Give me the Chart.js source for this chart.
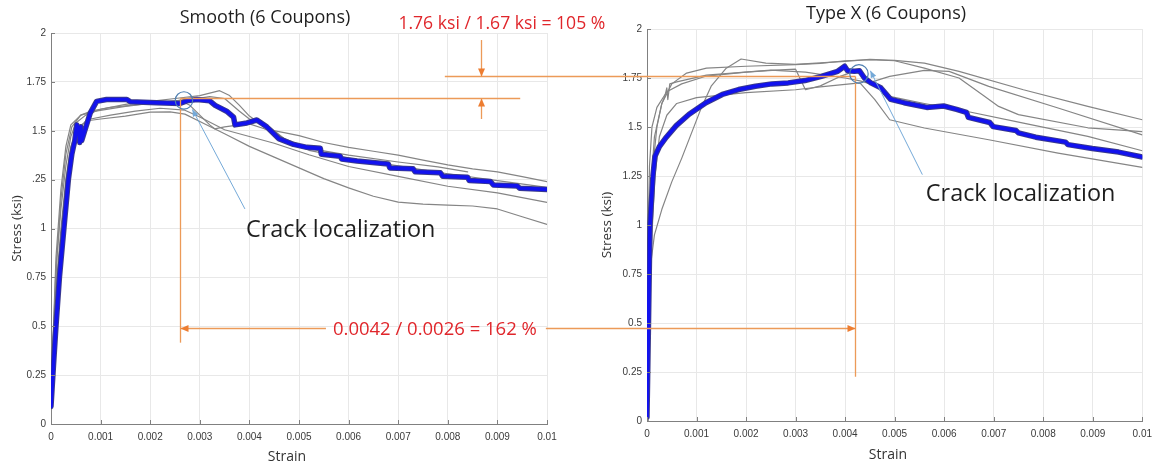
<!DOCTYPE html>
<html>
<head>
<meta charset="utf-8">
<script src="https://cdn.jsdelivr.net/npm/chart.js@4.4.1/dist/chart.umd.min.js"></script>
<style>
  html, body { margin: 0; padding: 0; background: #fff; }
  #wrap { position: relative; width: 1159px; height: 465px; overflow: hidden; background: #fff; }
  #wrap canvas { position: absolute; top: 0; }
</style>
</head>
<body>
<div id="wrap">
  <canvas id="smooth" width="590" height="465" style="left:0"></canvas>
  <canvas id="typex" width="569" height="465" style="left:590px"></canvas>
  <canvas id="notes" width="1159" height="465" style="left:0"></canvas>
</div>
<script>
// ---- axes ----
const strainTicks = [0, 0.001, 0.002, 0.003, 0.004, 0.005, 0.006, 0.007, 0.008, 0.009, 0.01];
const strainTickLabels = ['0', '0.001', '0.002', '0.003', '0.004', '0.005', '0.006', '0.007', '0.008', '0.009', '0.01'];
const stressTicks = [0, 0.25, 0.5, 0.75, 1, 1.25, 1.5, 1.75, 2];
const smoothStressLabels = ['0', '0.25', '0.5', '0.75', '1', '.25', '1.5', '1.75', '2'];
const typeXStressLabels = ['0', '0.25', '0.5', '0.75', '1', '1.25', '1.5', '1.75', '2'];
const chartTitles = ['Smooth (6 Coupons)', 'Type X (6 Coupons)'];
const strainTitle = 'Strain';
const stressTitle = 'Stress (ksi)';
const crackText = 'Crack localization';

// ---- peak values compared between the two panels: [Smooth, Type X] ----
const peakStrain = [0.0026, 0.0042];
const peakStress = [1.67, 1.76];

// ---- Smooth coupons: [strain, stress (ksi)] ----
const smoothHighlight = [[0,0.09],[0.00005,0.3],[0.0001,0.5],[0.00017,0.75],[0.00026,1.0],[0.00035,1.25],[0.00042,1.38],[0.00048,1.45],[0.00052,1.53],[0.00056,1.5],[0.00058,1.44],[0.0006,1.52],[0.00062,1.45],[0.00068,1.5],[0.00079,1.59],[0.00092,1.65],[0.00112,1.66],[0.00153,1.66],[0.0016,1.648],[0.00213,1.643],[0.0026,1.64],[0.00274,1.653],[0.00294,1.66],[0.0032,1.653],[0.00331,1.63],[0.00354,1.6],[0.00368,1.57],[0.00371,1.53],[0.00395,1.54],[0.00415,1.555],[0.00435,1.52],[0.00459,1.46],[0.00489,1.43],[0.00516,1.415],[0.00543,1.41],[0.00545,1.38],[0.00583,1.37],[0.00586,1.355],[0.00617,1.345],[0.0068,1.33],[0.00683,1.31],[0.0073,1.305],[0.00734,1.29],[0.00785,1.285],[0.0079,1.267],[0.0084,1.262],[0.00843,1.246],[0.00886,1.24],[0.00892,1.222],[0.0094,1.218],[0.00945,1.206],[0.01,1.2]];
const smoothA = [[0,0.05],[0.00004,0.4],[0.0001,0.8],[0.0002,1.1],[0.0003,1.32],[0.0004,1.47],[0.0005,1.54],[0.0007,1.58],[0.001,1.61],[0.0015,1.635],[0.002,1.65],[0.0025,1.665],[0.003,1.68],[0.0034,1.705],[0.0036,1.68],[0.0038,1.63],[0.004,1.575],[0.0043,1.52],[0.0047,1.46],[0.0052,1.41],[0.006,1.375],[0.007,1.34],[0.0078,1.315],[0.0084,1.29]];
const smoothB = [[0,0.08],[0.00005,0.45],[0.00012,0.85],[0.0002,1.15],[0.0003,1.38],[0.00042,1.52],[0.0006,1.58],[0.0009,1.6],[0.0015,1.625],[0.002,1.64],[0.0026,1.655],[0.0028,1.63],[0.003,1.58],[0.0032,1.53],[0.0033,1.51],[0.0035,1.52],[0.0038,1.53],[0.004,1.535],[0.0043,1.51],[0.0047,1.49],[0.005,1.475],[0.0055,1.44],[0.006,1.415],[0.0065,1.395],[0.007,1.375],[0.0075,1.35],[0.008,1.325],[0.0085,1.305],[0.009,1.29],[0.0095,1.265],[0.01,1.24]];
const smoothC = [[0,0.05],[0.00005,0.35],[0.00012,0.75],[0.0002,1.0],[0.0003,1.25],[0.0004,1.42],[0.00055,1.52],[0.0008,1.56],[0.0012,1.58],[0.0017,1.6],[0.0022,1.615],[0.0027,1.605],[0.003,1.57],[0.0035,1.505],[0.0045,1.436],[0.0052,1.377],[0.006,1.317],[0.007,1.267],[0.008,1.216],[0.009,1.182],[0.01,1.134]];
const smoothD = [[0,0.02],[0.00005,0.3],[0.00012,0.65],[0.0002,0.95],[0.0003,1.2],[0.0004,1.38],[0.0005,1.49],[0.0007,1.55],[0.001,1.56],[0.0015,1.575],[0.002,1.595],[0.0024,1.597],[0.0027,1.585],[0.003,1.547],[0.0035,1.485],[0.004,1.42],[0.0045,1.365],[0.005,1.31],[0.0055,1.255],[0.006,1.208],[0.0065,1.165],[0.007,1.135],[0.0075,1.125],[0.008,1.12],[0.0085,1.115],[0.009,1.1],[0.0095,1.06],[0.01,1.021]];
const smoothE = [[0,0.1],[0.00005,0.5],[0.0001,0.85],[0.0002,1.2],[0.0003,1.42],[0.0004,1.53],[0.0006,1.58],[0.0008,1.6],[0.0012,1.62],[0.002,1.64],[0.0028,1.66],[0.0032,1.675],[0.0035,1.665],[0.0038,1.6],[0.004,1.56],[0.0044,1.52],[0.0048,1.44],[0.0052,1.4],[0.006,1.36],[0.007,1.32],[0.008,1.28],[0.009,1.245],[0.01,1.21]];

// ---- Type X coupons: [strain, stress (ksi)] ----
const typeXHighlight = [[0,0.02],[0.00003,0.5],[0.00006,1.0],[0.00012,1.25],[0.00016,1.35],[0.00025,1.4],[0.00039,1.448],[0.00059,1.507],[0.00085,1.565],[0.00119,1.624],[0.00152,1.666],[0.00185,1.691],[0.00219,1.708],[0.00252,1.72],[0.00285,1.725],[0.00319,1.737],[0.00352,1.758],[0.00385,1.784],[0.00399,1.81],[0.00405,1.787],[0.00419,1.784],[0.00429,1.787],[0.00439,1.75],[0.00452,1.725],[0.00472,1.7],[0.00492,1.641],[0.00519,1.624],[0.00552,1.607],[0.00565,1.6],[0.00599,1.607],[0.00625,1.59],[0.00645,1.574],[0.00649,1.549],[0.00692,1.523],[0.00699,1.502],[0.00745,1.482],[0.0075,1.47],[0.00785,1.448],[0.00845,1.423],[0.0085,1.41],[0.00899,1.39],[0.00952,1.372],[0.01,1.347]];
const typeXA = [[0,0],[0.00002,0.9],[0.00005,1.3],[0.0001,1.5],[0.0002,1.6],[0.0004,1.68],[0.0007,1.72],[0.0012,1.76],[0.002,1.78],[0.0026,1.79],[0.003,1.795],[0.0032,1.69],[0.0035,1.71],[0.0039,1.758],[0.0042,1.785],[0.0045,1.74],[0.0049,1.656],[0.0056,1.62],[0.0063,1.588],[0.0076,1.52],[0.0089,1.452],[0.01,1.379]];
const typeXB = [[0,0],[0.00002,0.45],[0.00005,0.75],[0.00015,0.95],[0.0003,1.08],[0.0005,1.22],[0.0007,1.34],[0.0009,1.47],[0.0011,1.6],[0.0013,1.71],[0.0016,1.8],[0.0019,1.847],[0.0024,1.826],[0.003,1.82],[0.004,1.835],[0.0045,1.845],[0.005,1.84],[0.0056,1.826],[0.0063,1.784],[0.0076,1.69],[0.0089,1.605],[0.01,1.537]];
const typeXC = [[0,0],[0.00003,0.7],[0.00008,1.2],[0.00015,1.45],[0.0003,1.62],[0.0005,1.72],[0.0008,1.775],[0.0012,1.8],[0.002,1.81],[0.003,1.818],[0.0035,1.825],[0.004,1.838],[0.0045,1.843],[0.005,1.838],[0.0056,1.8],[0.0063,1.75],[0.0068,1.66],[0.0071,1.605],[0.0075,1.563],[0.0089,1.496],[0.01,1.476]];
const typeXD = [[0,0],[0.00003,0.8],[0.0001,1.25],[0.0002,1.5],[0.0003,1.62],[0.00036,1.656],[0.0004,1.7],[0.00042,1.64],[0.00046,1.72],[0.0006,1.73],[0.0012,1.765],[0.0025,1.79],[0.0032,1.78],[0.004,1.75],[0.0043,1.735],[0.00446,1.724],[0.0049,1.758],[0.0056,1.789],[0.0061,1.784],[0.0069,1.707],[0.0083,1.597],[0.01,1.46]];
const typeXE = [[0,0],[0.00004,0.5],[0.0001,0.95],[0.00016,1.25],[0.00025,1.45],[0.0004,1.56],[0.0006,1.62],[0.001,1.65],[0.002,1.675],[0.003,1.69],[0.0035,1.705],[0.0043,1.725],[0.0046,1.64],[0.0049,1.537],[0.0056,1.495],[0.0069,1.435],[0.0083,1.367],[0.01,1.294]];

const GRAY = '#858585';
const BLUE = '#1212ee';
const BLUE_EDGE = '#3b3b8c';
const ORANGE_LINE = '#ec9a58';
const ORANGE_HEAD = '#ed7d31';
const RED = '#e0262b';
const LEADER = '#74a9d8';
const RING = '#4f7fb0';
const TEXT = '#1e1e1e';

const toXY = pts => pts.map(p => ({ x: p[0], y: p[1] }));

function coupons(grays, highlight) {
  const sets = grays.map(g => ({ data: toXY(g), borderColor: GRAY, borderWidth: 1.2, order: 3 }));
  sets.push({ data: toXY(highlight), borderColor: BLUE_EDGE, borderWidth: 5.5, order: 2 });
  sets.push({ data: toXY(highlight), borderColor: BLUE, borderWidth: 3.6, order: 1 });
  return sets;
}

// MATLAB-style tick marks pointing into the plot
const innerTicks = {
  id: 'innerTicks',
  afterDraw(chart) {
    const { ctx, chartArea: a, scales: { x, y } } = chart;
    ctx.save();
    ctx.strokeStyle = '#808080';
    ctx.lineWidth = 1;
    ctx.beginPath();
    x.ticks.forEach(t => { const p = Math.round(x.getPixelForValue(t.value)) + 0.5; ctx.moveTo(p, a.bottom); ctx.lineTo(p, a.bottom - 4); });
    y.ticks.forEach(t => { const p = Math.round(y.getPixelForValue(t.value)) + 0.5; ctx.moveTo(a.left, p); ctx.lineTo(a.left + 4, p); });
    ctx.stroke();
    ctx.restore();
  }
};

// panel title and strain label
const captions = {
  id: 'captions',
  afterDraw(chart, args, o) {
    const ctx = chart.ctx;
    ctx.save();
    ctx.textAlign = 'center';
    ctx.textBaseline = 'alphabetic';
    ctx.fillStyle = TEXT;
    ctx.font = '18px "Open Sans"';
    ctx.fillText(o.title, o.titleX, o.titleY);
    ctx.fillStyle = '#333';
    ctx.font = '14px "Open Sans"';
    ctx.fillText(o.xTitle, o.xTitleX, o.xTitleY);
    ctx.restore();
  }
};

function makeChart(id, datasets, stressLabels, lay) {
  const tickFont = { family: '"Liberation Sans", Arial, sans-serif', size: 10 };
  return new Chart(document.getElementById(id), {
    type: 'line',
    data: { datasets },
    options: {
      responsive: false,
      animation: false,
      devicePixelRatio: 1,
      layout: { padding: { top: lay.top, right: lay.right, bottom: 0, left: 0 } },
      elements: { point: { radius: 0 }, line: { tension: 0, borderJoinStyle: 'round', borderCapStyle: 'round' } },
      plugins: {
        legend: { display: false },
        tooltip: { enabled: false },
        title: { display: false },
        captions: lay.captions
      },
      scales: {
        x: {
          type: 'linear', min: 0, max: 0.01,
          afterFit: s => { s.height = lay.xHeight; },
          afterBuildTicks: s => { s.ticks = strainTicks.map(v => ({ value: v })); },
          ticks: { callback: (v, i) => strainTickLabels[i], padding: 7, font: tickFont, color: '#3a3a3a', maxRotation: 0, autoSkip: false },
          grid: { color: '#e8e8e8', drawTicks: false },
          border: { color: '#808080', width: 1 }
        },
        y: {
          type: 'linear', min: 0, max: 2,
          afterFit: s => { s.width = lay.yWidth; },
          afterBuildTicks: s => { s.ticks = stressTicks.map(v => ({ value: v })); },
          ticks: { callback: (v, i) => stressLabels[i], padding: 5, font: tickFont, color: '#3a3a3a', autoSkip: false },
          grid: { color: '#e8e8e8', drawTicks: false },
          border: { color: '#808080', width: 1 },
          title: { display: true, text: stressTitle, color: '#333', font: { family: '"Open Sans"', size: 13.5 }, padding: { top: 9, bottom: 0 } }
        }
      }
    },
    plugins: [innerTicks, captions]
  });
}

const smoothChart = makeChart('smooth', coupons([smoothA, smoothB, smoothC, smoothD, smoothE], smoothHighlight), smoothStressLabels, {
  top: 33, right: 43, xHeight: 41, yWidth: 51,
  captions: { title: chartTitles[0], titleX: 265, titleY: 23, xTitle: strainTitle, xTitleX: 287, xTitleY: 461 }
});
const typeXChart = makeChart('typex', coupons([typeXA, typeXB, typeXC, typeXD, typeXE], typeXHighlight), typeXStressLabels, {
  top: 29, right: 12, xHeight: 44, yWidth: 57,
  captions: { title: chartTitles[1], titleX: 296, titleY: 18.5, xTitle: strainTitle, xTitleX: 298, xTitleY: 459 }
});

// ---- comparison notes drawn across both panels ----
(function drawNotes() {
  const cv = document.getElementById('notes');
  const ctx = cv.getContext('2d');
  const leftOff = 0, rightOff = 590;
  const crisp = v => Math.round(v) + 0.5;
  const L = (sx, sy) => [leftOff + smoothChart.scales.x.getPixelForValue(sx), smoothChart.scales.y.getPixelForValue(sy)];
  const R = (sx, sy) => [rightOff + typeXChart.scales.x.getPixelForValue(sx), typeXChart.scales.y.getPixelForValue(sy)];

  function line(a, b, color, w) {
    ctx.strokeStyle = color; ctx.lineWidth = w;
    ctx.beginPath(); ctx.moveTo(a[0], a[1]); ctx.lineTo(b[0], b[1]); ctx.stroke();
  }
  function head(tip, from, color, len, half) {
    const ang = Math.atan2(tip[1] - from[1], tip[0] - from[0]);
    ctx.fillStyle = color;
    ctx.beginPath();
    ctx.moveTo(tip[0], tip[1]);
    ctx.lineTo(tip[0] - len * Math.cos(ang) + half * Math.sin(ang), tip[1] - len * Math.sin(ang) - half * Math.cos(ang));
    ctx.lineTo(tip[0] - len * Math.cos(ang) - half * Math.sin(ang), tip[1] - len * Math.sin(ang) + half * Math.cos(ang));
    ctx.closePath(); ctx.fill();
  }
  function arrow(from, tip, color, headColor) {
    line(from, tip, color, 1.3);
    head(tip, from, headColor, 8, 3.5);
  }

  const yTopRight = crisp(R(0, peakStress[1])[1]);
  const yTopLeft = crisp(L(0, peakStress[0])[1]);
  const xPeakLeft = crisp(L(peakStrain[0], 0)[0]);
  const xPeakRight = crisp(R(peakStrain[1], 0)[0]);

  // peak stress guides
  line([L(0.00794, 0)[0], yTopRight], [xPeakRight, yTopRight], ORANGE_LINE, 1.3);
  line([xPeakLeft, yTopLeft], [L(0.00946, 0)[0], yTopLeft], ORANGE_LINE, 1.3);
  const xArrow = crisp(L(0.00867, 0)[0]);
  arrow([xArrow, L(0, 1.964)[1]], [xArrow, yTopRight], ORANGE_LINE, ORANGE_HEAD);
  arrow([xArrow, L(0, 1.56)[1]], [xArrow, yTopLeft], ORANGE_LINE, ORANGE_HEAD);

  // peak strain guides
  line([xPeakLeft, yTopLeft], [xPeakLeft, L(0, 0.416)[1]], ORANGE_LINE, 1.3);
  line([xPeakRight, yTopRight], [xPeakRight, R(0, 0.226)[1]], ORANGE_LINE, 1.3);

  // ratio labels
  const stressRatio = `${peakStress[1]} ksi / ${peakStress[0]} ksi = ${Math.round(peakStress[1] / peakStress[0] * 100)} %`;
  const strainRatio = `${peakStrain[1]} / ${peakStrain[0]} = ${Math.round(peakStrain[1] / peakStrain[0] * 100)} %`;
  ctx.textBaseline = 'alphabetic';
  ctx.textAlign = 'center';
  ctx.fillStyle = RED;
  ctx.font = '17.6px "Open Sans"';
  const topPos = L(0.00909, 2.019);
  ctx.fillText(stressRatio, topPos[0], topPos[1]);

  ctx.font = '18.5px "Open Sans"';
  const midPos = L(0.00774, 0.455);
  const w = ctx.measureText(strainRatio).width;
  const yMid = crisp(L(0, 0.49)[1]);
  arrow([midPos[0] - w / 2 - 7, yMid], [xPeakLeft, yMid], ORANGE_LINE, ORANGE_HEAD);
  arrow([midPos[0] + w / 2 + 9, yMid], [xPeakRight, yMid], ORANGE_LINE, ORANGE_HEAD);
  ctx.fillStyle = RED;
  ctx.fillText(strainRatio, midPos[0], midPos[1]);

  // crack localization callouts
  function callout(center, r, from, tip, textPos) {
    ctx.strokeStyle = RING; ctx.lineWidth = 1.2;
    ctx.beginPath(); ctx.arc(center[0], center[1], r, 0, Math.PI * 2); ctx.stroke();
    line(from, tip, LEADER, 1);
    head(tip, from, LEADER, 7, 3);
    ctx.fillStyle = TEXT;
    ctx.textAlign = 'left';
    ctx.font = '23.4px "Open Sans"';
    ctx.fillText(crackText, textPos[0], textPos[1]);
  }
  callout(L(0.00268, 1.655), 8.7, L(0.00391, 1.10), L(0.00285, 1.609), L(0.00393, 0.957));
  callout(R(0.00428, 1.771), 9.2, R(0.00556, 1.257), R(0.00451, 1.787), R(0.00563, 1.12));
})();
</script>
</body>
</html>
